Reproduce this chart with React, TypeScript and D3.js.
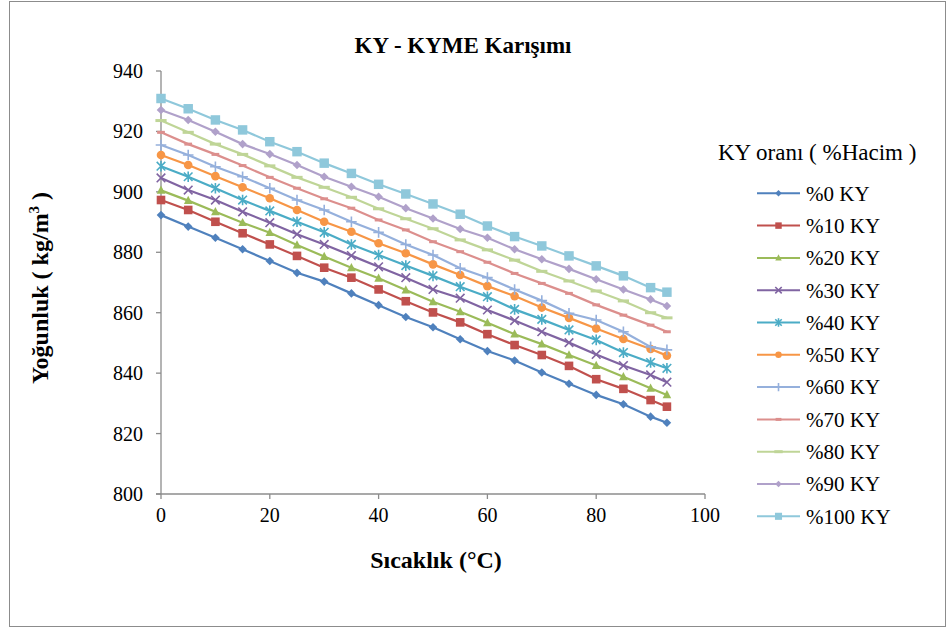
import React, { useRef, useEffect } from "react";
import { select, scaleLinear, line, range } from "d3";

// temperature (°C)
const temps = [0, 5, 10, 15, 20, 25, 30, 35, 40, 45, 50, 55, 60, 65, 70, 75, 80, 85, 90, 93];

// density (kg/m3) per KY ratio
const ky0 = [892.3, 888.5, 884.8, 881.0, 877.1, 873.2, 870.3, 866.4, 862.5, 858.6, 855.2, 851.2, 847.3, 844.2, 840.2, 836.5, 832.8, 829.7, 825.6, 823.6];
const ky10 = [897.3, 894.0, 890.1, 886.3, 882.6, 878.8, 874.9, 871.6, 867.7, 863.8, 860.1, 856.8, 852.9, 849.3, 846.0, 842.4, 838.0, 834.8, 831.1, 828.9];
const ky20 = [900.5, 897.1, 893.4, 889.8, 886.5, 882.4, 878.6, 874.9, 871.4, 867.5, 863.6, 860.3, 856.7, 852.9, 849.6, 846.0, 842.5, 838.8, 835.0, 832.8];
const ky30 = [904.6, 900.6, 897.3, 893.4, 889.8, 886.0, 882.6, 878.9, 875.2, 871.6, 867.7, 864.8, 860.9, 857.4, 853.7, 850.1, 846.2, 842.5, 839.4, 837.0];
const ky40 = [908.5, 905.0, 901.2, 897.3, 893.7, 890.1, 886.6, 882.6, 879.1, 875.6, 872.2, 868.6, 865.3, 861.1, 857.8, 854.3, 851.0, 846.8, 843.5, 841.6];
const ky50 = [912.2, 908.9, 905.2, 901.5, 897.9, 894.0, 890.1, 886.8, 883.0, 879.7, 876.0, 872.5, 868.8, 865.5, 861.7, 858.3, 854.8, 851.3, 848.0, 845.8];
const ky60 = [915.5, 912.2, 908.3, 905.0, 901.2, 897.3, 894.0, 890.1, 886.6, 882.6, 879.1, 874.7, 871.6, 867.7, 864.0, 859.8, 857.6, 853.7, 848.7, 847.7];
const ky70 = [919.7, 915.8, 912.4, 908.7, 904.8, 901.2, 897.7, 894.6, 890.7, 887.4, 883.5, 880.2, 876.7, 873.0, 869.7, 866.4, 862.6, 859.2, 855.9, 853.7];
const ky80 = [923.6, 919.7, 915.8, 912.4, 908.6, 904.8, 901.5, 898.2, 894.4, 891.1, 887.8, 884.1, 880.8, 877.4, 873.7, 870.5, 867.2, 863.9, 860.0, 858.3];
const ky90 = [927.1, 923.8, 919.9, 915.8, 912.5, 908.9, 905.0, 901.7, 898.4, 894.6, 891.2, 887.7, 884.8, 881.0, 877.7, 874.5, 871.1, 867.7, 864.4, 862.2];
const ky100 = [930.9, 927.5, 923.8, 920.5, 916.6, 913.3, 909.5, 906.1, 902.5, 899.3, 896.0, 892.6, 888.7, 885.2, 882.1, 878.8, 875.5, 872.2, 868.3, 866.8];

const seriesNames = ["%0 KY", "%10 KY", "%20 KY", "%30 KY", "%40 KY", "%50 KY", "%60 KY", "%70 KY", "%80 KY", "%90 KY", "%100 KY"];
const seriesValues = [ky0, ky10, ky20, ky30, ky40, ky50, ky60, ky70, ky80, ky90, ky100];
const seriesColors = ["#4f81bd", "#c0504d", "#9bbb59", "#8064a2", "#4bacc6", "#f79646", "#95b0dc", "#dc8f8d", "#bfd597", "#b0a1ca", "#8fc8db"];
const seriesMarkers = ["diamond", "square", "triangle", "x", "asterisk", "circle", "plus", "dash", "longdash", "diamond", "bigsquare"];

const xTicks = [0, 20, 40, 60, 80, 100];
const yTicks = [800, 820, 840, 860, 880, 900, 920, 940];

const FONT = "Liberation Serif, DejaVu Serif, serif";

function drawMarker(g, type, x, y, color, k = 1) {
  const s = 4.3 * k;
  if (type === "circle") {
    g.append("circle").attr("cx", x).attr("cy", y).attr("r", s).attr("fill", color);
  } else if (type === "square" || type === "bigsquare") {
    const h = type === "bigsquare" ? s * 1.1 : s;
    g.append("rect").attr("x", x - h).attr("y", y - h).attr("width", 2 * h).attr("height", 2 * h).attr("fill", color);
  } else if (type === "diamond") {
    g.append("path").attr("d", `M${x},${y - s}L${x + s},${y}L${x},${y + s}L${x - s},${y}Z`).attr("fill", color);
  } else if (type === "triangle") {
    g.append("path").attr("d", `M${x},${y - s - 0.5}L${x + s},${y + s * 0.8}L${x - s},${y + s * 0.8}Z`).attr("fill", color);
  } else if (type === "x" || type === "asterisk") {
    let d = `M${x - s},${y - s}L${x + s},${y + s}M${x - s},${y + s}L${x + s},${y - s}`;
    if (type === "asterisk") d += `M${x},${y - s - 1}L${x},${y + s + 1}`;
    g.append("path").attr("d", d).attr("stroke", color).attr("stroke-width", 1.6).attr("fill", "none");
  } else if (type === "plus") {
    g.append("path").attr("d", `M${x - s - 1},${y}L${x + s + 1},${y}M${x},${y - s - 1}L${x},${y + s + 1}`)
      .attr("stroke", color).attr("stroke-width", 1.6).attr("fill", "none");
  } else if (type === "dash" || type === "longdash") {
    const w = type === "longdash" ? s * 1.3 : s * 0.9;
    g.append("rect").attr("x", x - w).attr("y", y - 1.5).attr("width", 2 * w).attr("height", 3).attr("fill", color);
  }
}

const App = () => {
  const ref = useRef(null);
  const width = 952;
  const height = 629;

  useEffect(() => {
    const svg = select(ref.current);
    svg.selectAll("*").remove();

    const xScale = scaleLinear().domain([0, 100]).range([161, 705]);
    const yScale = scaleLinear().domain([800, 940]).range([494, 71]);

    // outer chart frame
    svg.append("rect")
      .attr("x", 9.5).attr("y", 1.5).attr("width", 936).attr("height", 625)
      .attr("fill", "white").attr("stroke", "#8c8c8c").attr("stroke-width", 1);

    // title
    svg.append("text")
      .attr("x", 463).attr("y", 53)
      .attr("text-anchor", "middle")
      .attr("font-family", FONT).attr("font-size", 23).attr("font-weight", "bold")
      .text("KY - KYME Karışımı");

    // axes
    const axisColor = "#8c8c8c";
    svg.append("line")
      .attr("x1", xScale(0)).attr("x2", xScale(0))
      .attr("y1", yScale(940)).attr("y2", yScale(800))
      .attr("stroke", axisColor).attr("stroke-width", 1.3);
    svg.append("line")
      .attr("x1", xScale(0) - 5).attr("x2", xScale(100))
      .attr("y1", yScale(800)).attr("y2", yScale(800))
      .attr("stroke", axisColor).attr("stroke-width", 1.3);

    yTicks.forEach((t) => {
      svg.append("line")
        .attr("x1", xScale(0) - 5).attr("x2", xScale(0))
        .attr("y1", yScale(t)).attr("y2", yScale(t))
        .attr("stroke", axisColor).attr("stroke-width", 1.3);
      svg.append("text")
        .attr("x", xScale(0) - 18).attr("y", yScale(t))
        .attr("dy", "0.35em").attr("text-anchor", "end")
        .attr("font-family", FONT).attr("font-size", 20)
        .text(t);
    });

    xTicks.forEach((t) => {
      svg.append("line")
        .attr("x1", xScale(t)).attr("x2", xScale(t))
        .attr("y1", yScale(800)).attr("y2", yScale(800) + 5)
        .attr("stroke", axisColor).attr("stroke-width", 1.3);
      svg.append("text")
        .attr("x", xScale(t)).attr("y", yScale(800) + 28)
        .attr("text-anchor", "middle")
        .attr("font-family", FONT).attr("font-size", 20)
        .text(t);
    });

    // axis titles
    svg.append("text")
      .attr("x", 436).attr("y", 568)
      .attr("text-anchor", "middle")
      .attr("font-family", FONT).attr("font-size", 24).attr("font-weight", "bold")
      .text("Sıcaklık (°C)");

    const yLabel = svg.append("text")
      .attr("transform", "translate(48, 288) rotate(-90)")
      .attr("text-anchor", "middle")
      .attr("font-family", FONT).attr("font-size", 24).attr("font-weight", "bold");
    yLabel.append("tspan").text("Yoğunluk ( kg/m");
    yLabel.append("tspan").attr("dy", -9).attr("font-size", 15).text("3");
    yLabel.append("tspan").attr("dy", 9).text(" )");

    // series
    const plot = svg.append("g");
    seriesValues.forEach((vals, i) => {
      const pts = temps.map((t, j) => [t, vals[j]]);
      const lineGen = line()
        .x((d) => xScale(d[0]))
        .y((d) => yScale(d[1]));
      plot.append("path")
        .datum(pts)
        .attr("fill", "none")
        .attr("stroke", seriesColors[i])
        .attr("stroke-width", 2.2)
        .attr("d", lineGen);
      const mg = plot.append("g");
      pts.forEach((d) => drawMarker(mg, seriesMarkers[i], xScale(d[0]), yScale(d[1]), seriesColors[i]));
    });

    // legend
    svg.append("text")
      .attr("x", 718).attr("y", 160)
      .attr("font-family", FONT).attr("font-size", 23)
      .text("KY oranı ( %Hacim )");

    const legendRows = range(seriesNames.length);
    legendRows.forEach((i) => {
      const y = 193.3 + i * 32.3;
      svg.append("line")
        .attr("x1", 757).attr("x2", 800)
        .attr("y1", y).attr("y2", y)
        .attr("stroke", seriesColors[i]).attr("stroke-width", 2);
      drawMarker(svg, seriesMarkers[i], 778.5, y, seriesColors[i], 0.75);
      svg.append("text")
        .attr("x", 806).attr("y", y)
        .attr("dy", "0.35em")
        .attr("font-family", FONT).attr("font-size", 21)
        .text(seriesNames[i]);
    });
  }, []);

  return (
    <svg
      ref={ref}
      width={width}
      height={height}
      style={{ position: "absolute", left: 0, top: 0, background: "white" }}
    />
  );
};

export default App;
